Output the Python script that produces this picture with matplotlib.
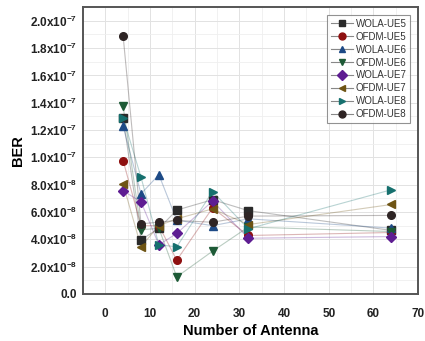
import numpy as np
import matplotlib.pyplot as plt
from matplotlib.ticker import FixedLocator, MultipleLocator

plt.rcParams['font.family'] = ['Liberation Sans', 'DejaVu Sans']
plt.rcParams['mathtext.fontset'] = 'custom'
plt.rcParams['mathtext.rm'] = 'Liberation Sans:bold'
plt.rcParams['mathtext.bf'] = 'Liberation Sans:bold'

antennas = [4, 8, 12, 16, 24, 32, 64]

# BER values in units of 1e-8
wola_ue5 = [12.9, 3.96, 4.8, 6.14, 6.9, 6.1, 4.65]
ofdm_ue5 = [9.76, 5.0, 5.0, 2.47, 6.3, 4.28, 4.5]
wola_ue6 = [12.27, 7.33, 8.73, 5.4, 5.0, 5.5, 4.82]
ofdm_ue6 = [13.74, 4.7, 4.8, 1.25, 3.13, 4.9, 4.57]
wola_ue7 = [7.55, 6.75, 3.6, 4.43, 6.8, 4.08, 4.2]
ofdm_ue7 = [8.04, 3.47, 5.0, 5.5, 6.23, 5.08, 6.55]
wola_ue8 = [12.9, 8.56, 3.6, 3.45, 7.5, 4.77, 7.63]
ofdm_ue8 = [18.9, 5.13, 5.26, 5.38, 5.25, 5.7, 5.75]

names = ['WOLA-UE5', 'OFDM-UE5', 'WOLA-UE6', 'OFDM-UE6',
         'WOLA-UE7', 'OFDM-UE7', 'WOLA-UE8', 'OFDM-UE8']
series = [wola_ue5, ofdm_ue5, wola_ue6, ofdm_ue6,
          wola_ue7, ofdm_ue7, wola_ue8, ofdm_ue8]
markers = ['s', 'o', '^', 'v', 'D', '<', '>', 'o']
colors = ['#2a2a2a', '#8e1010', '#1d4a86', '#1d5a36',
          '#5e1d92', '#6e5414', '#16706e', '#2e2424']

yticks = np.arange(0, 2.01e-7, 2e-8)
ytick_labels = ['0.0'] + [r'%.1fx10$^{%d}$' % (v / 10 ** np.floor(np.log10(v)),
                                             int(np.floor(np.log10(v))))
                          for v in yticks[1:]]

fig = plt.figure(figsize=(4.25, 3.41), dpi=100)
ax = fig.add_axes([0.195, 0.138, 0.789, 0.841])

for name, vals, m, c in zip(names, series, markers, colors):
    ms = 4.8 if m == 'D' else 5.5
    ax.plot(antennas, np.array(vals) * 1e-8, color=c, alpha=1.0,
            linewidth=0, marker=m, markersize=ms, label=name, zorder=3)
    ax.plot(antennas, np.array(vals) * 1e-8, color=c, alpha=0.3,
            linewidth=0.8, zorder=2)

ax.set_xlim(-5, 70)
ax.set_ylim(0, 2.1e-7)
ax.xaxis.set_major_locator(MultipleLocator(10))
ax.xaxis.set_minor_locator(MultipleLocator(5))
ax.yaxis.set_major_locator(FixedLocator(yticks))
ax.yaxis.set_minor_locator(MultipleLocator(1e-8))
ax.set_yticklabels(ytick_labels)
ax.grid(True, which='major', color='#e2e2e2', linewidth=0.7)
ax.grid(True, which='minor', color='#efefef', linewidth=0.6)
ax.set_axisbelow(True)

for lab in ax.get_xticklabels() + ax.get_yticklabels():
    lab.set_fontweight('bold')
    lab.set_fontsize(8.5)
    lab.set_color('#222222')
ax.tick_params(which='both', length=0)
ax.tick_params(axis='x', pad=10)
ax.tick_params(axis='y', pad=4)

for sp in ax.spines.values():
    sp.set_color('#555555')
    sp.set_linewidth(1.4)

ax.set_xlabel('Number of Antenna', fontsize=10.5, fontweight='bold', labelpad=3)
ax.set_ylabel('BER', fontsize=10.5, fontweight='bold', labelpad=4)

leg = ax.legend(loc='upper right', fontsize=7, frameon=True, fancybox=False,
                handlelength=2.2, handletextpad=0.3, labelspacing=0.3,
                borderpad=0.4, borderaxespad=0.8)
leg.get_frame().set_edgecolor('#777777')
leg.get_frame().set_linewidth(0.8)
for h, c in zip(leg.legend_handles, colors):
    h.set_linewidth(0.8)
    h.set_color('#888888')
    h.set_markerfacecolor(c)
    h.set_markeredgecolor(c)
    h.set_markersize(5)
for t in leg.get_texts():
    t.set_color('#333333')

fig.savefig('out.png', dpi=100)
